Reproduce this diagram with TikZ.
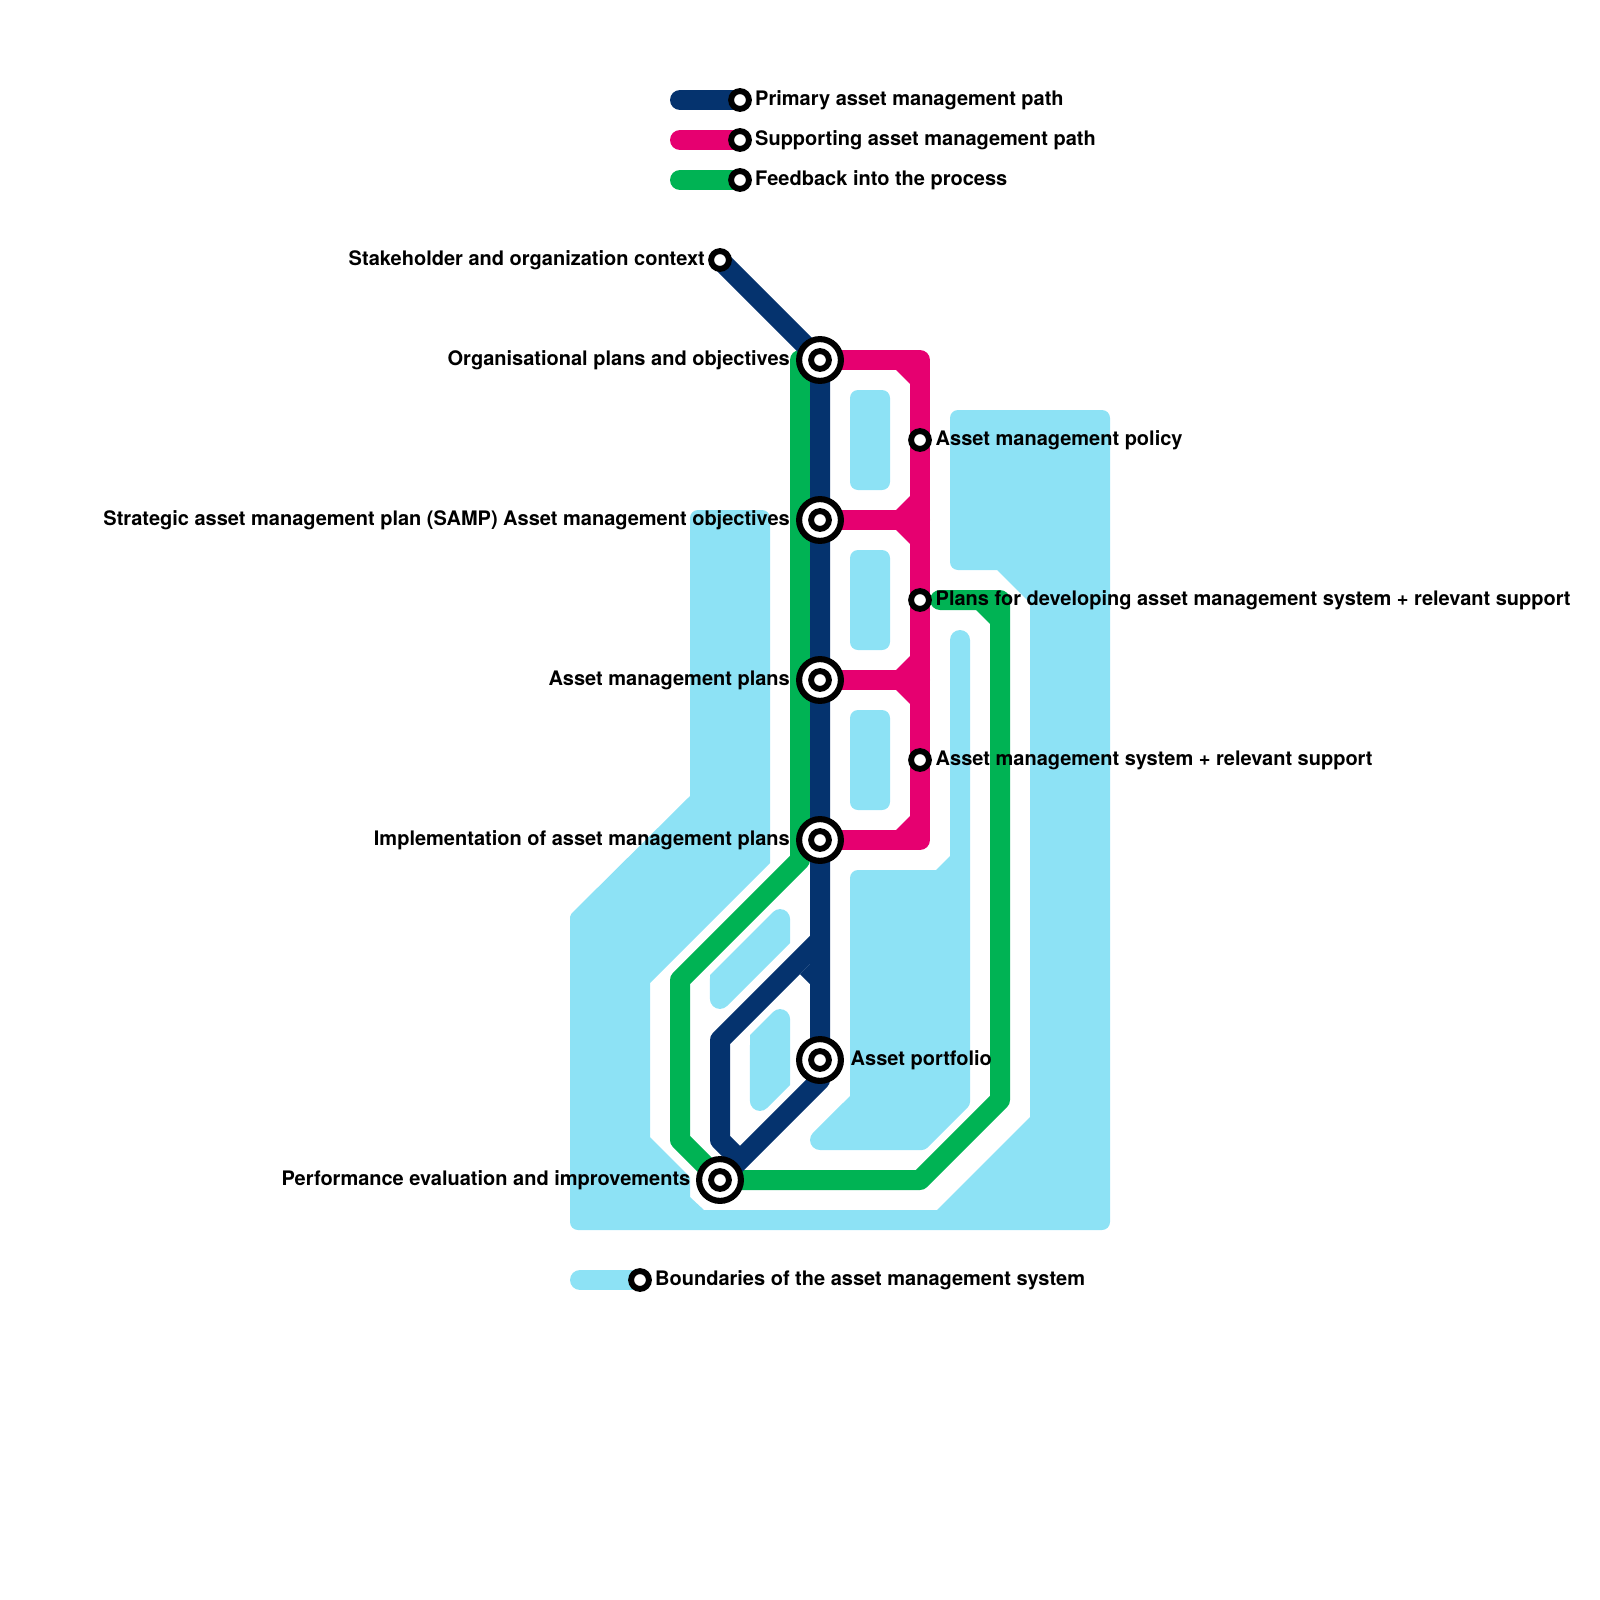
\documentclass[tikz,border=0pt]{standalone}
\usepackage{fontspec}
\setmainfont{TeX Gyre Heros}
\definecolor{PrimaryPath}{RGB}{5,51,110}
\definecolor{SupportPath}{RGB}{230,0,112}
\definecolor{FeedbackPath}{RGB}{0,179,84}
\definecolor{BoundaryColor}{RGB}{141,226,245}
\usetikzlibrary{backgrounds}
\tikzset{
  pathline/.style={line width=20pt, line join=round, line cap=round},
  legendbar/.style={line width=20pt, line cap=round},
  region/.style={fill=BoundaryColor, draw=none},
  station/.style={circle, draw=black, fill=white, line width=5.9pt, inner sep=0pt, minimum size=17.8pt},
  hubring/.style={circle, draw=black, fill=white, line width=6.1pt, inner sep=0pt, minimum size=41.8pt},
  lbl/.style={font=\bfseries\fontsize{20}{24}\selectfont, inner sep=0pt},
  lblleft/.style={lbl, anchor=base east},
  lblright/.style={lbl, anchor=base west}
}
\begin{document}
\begin{tikzpicture}[x=1pt, y=-1pt]
  \useasboundingbox (0,0) rectangle (1600,1600);
  \foreach \name/\x/\y in {org/820/360, objectives/820/520, amplans/820/680, implementation/820/840, portfolio/820/1060, evaluation/720/1180} {
    \node[hubring] (\name) at (\x,\y) {};
    \node[station] (\name dot) at (\x,\y) {};
  }
  \foreach \name/\x/\y in {context/720/260, policy/920/440, plansdev/920/600, amsystem/920/760, legprimary/740/100, legsupport/740/140, legfeedback/740/180, legboundary/640/1280}
    \node[station] (\name) at (\x,\y) {};
  \coordinate (feedbackend) at (940,600);
  \coordinate (barprimary) at (680,100);
  \coordinate (barsupport) at (680,140);
  \coordinate (barfeedback) at (680,180);
  \coordinate (barboundary) at (580,1280);

  \begin{scope}[on background layer]
    \fill[region] (690,518) [rounded corners=8pt] -- (690,510) -- (770,510) [sharp corners] -- (770,863) -- (650,983) -- (650,1137) -- (690,1177) -- (690,1197) -- (704,1210) -- (937,1210) -- (1030,1117) -- (1030,603) -- (997,570) [rounded corners=8pt] -- (950,570) -- (950,410) -- (1110,410) -- (1110,1230) -- (570,1230) [rounded corners=2pt] -- (570,915) [sharp corners] -- (690,796) -- cycle;
    \fill[region] (850,878) [rounded corners=8pt] -- (850,870) [sharp corners] -- (936,870) -- (950,856) [rounded corners=10pt] -- (950,630) -- (970,630) [rounded corners=3pt] -- (970,1105) -- (925,1150) [sharp corners] -- (820,1150) arc[start angle=-90, end angle=-225, radius=10pt] -- (850,1096) -- cycle;
    \foreach \ytop in {390,550,710}
      \fill[region, rounded corners=8pt] (850,\ytop) rectangle (890,\ytop+100);
    \fill[region] (773,912) arc[start angle=135, end angle=0, radius=10pt] -- (790,943) -- (727,1006) arc[start angle=-45, end angle=-180, radius=10pt] -- (710,975) -- cycle;
    \fill[region] (773,1012) arc[start angle=135, end angle=0, radius=10pt] -- (790,1085) -- (767,1108) arc[start angle=-45, end angle=-180, radius=10pt] -- (750,1035) -- cycle;

    \draw[pathline, FeedbackPath] (org.center) -- (800,360) -- (800,860) -- (680,980) -- (680,1140) -- (evaluation.center) -- (920,1180) -- (1000,1100) -- (1000,600) -- (feedbackend);
    \fill[FeedbackPath] (976,610) -- (976,608) -- (992,608) -- (992,624) -- (990,624) -- cycle;

    \draw[pathline, SupportPath] (org.center) -| (policy.center) -- (plansdev.center) -- (amsystem.center) |- (implementation.center);
    \draw[pathline, SupportPath] (objectives.center) -- (objectives.center -| policy.center);
    \draw[pathline, SupportPath] (amplans.center) -- (amplans.center -| policy.center);
    \foreach \yjoin in {510,670,830}
      \fill[SupportPath] (896,\yjoin) -- (896,\yjoin+2) -- (912,\yjoin+2) -- (912,\yjoin-14) -- (910,\yjoin-14) -- cycle;
    \foreach \yjoin in {370,530,690}
      \fill[SupportPath] (896,\yjoin) -- (896,\yjoin-2) -- (912,\yjoin-2) -- (912,\yjoin+14) -- (910,\yjoin+14) -- cycle;

    \draw[pathline, PrimaryPath] (context.center) -- (org.center) -- (objectives.center) -- (amplans.center) -- (implementation.center) -- (portfolio.center) -- (820,1080) -- (evaluation.center);
    \draw[pathline, PrimaryPath, line cap=butt] (820,940) -- (720,1040) -- (720,1140) -- (740,1160);
    \fill[PrimaryPath] (800,974) -- (810,964) -- (812,964) -- (812,984) -- (810,984) -- cycle;

    \draw[legendbar, PrimaryPath] (barprimary) -- (legprimary.center);
    \draw[legendbar, SupportPath] (barsupport) -- (legsupport.center);
    \draw[legendbar, FeedbackPath] (barfeedback) -- (legfeedback.center);
    \draw[legendbar, BoundaryColor] (barboundary) -- (legboundary.center);
  \end{scope}

  \node[lblright] (lblprimary) at (755,105.3) {Primary asset management path};
  \node[lblright] (lblsupport) at (755,145.3) {Supporting asset management path};
  \node[lblright] (lblfeedback) at (755,185.3) {Feedback into the process};
  \node[lblleft] (lblcontext) at (705,265.3) {Stakeholder and organization context};
  \node[lblleft] (lblorg) at (790,365.3) {Organisational plans and objectives};
  \node[lblleft] (lblobjectives) at (790,525.3) {Strategic asset management plan (SAMP) Asset management objectives};
  \node[lblleft] (lblamplans) at (790,685.3) {Asset management plans};
  \node[lblleft] (lblimplementation) at (790,845.3) {Implementation of asset management plans};
  \node[lblleft] (lblevaluation) at (690.5,1185.3) {Performance evaluation and improvements};
  \node[lblright] (lblportfolio) at (850.5,1065.3) {Asset portfolio};
  \node[lblright] (lblpolicy) at (935.5,445.3) {Asset management policy};
  \node[lblright] (lblplansdev) at (935.5,605.3) {Plans for developing asset management system + relevant support};
  \node[lblright] (lblamsystem) at (935.5,765.3) {Asset management system + relevant support};
  \node[lblright] (lblboundary) at (655,1285.3) {Boundaries of the asset management system};
\end{tikzpicture}
\end{document}
